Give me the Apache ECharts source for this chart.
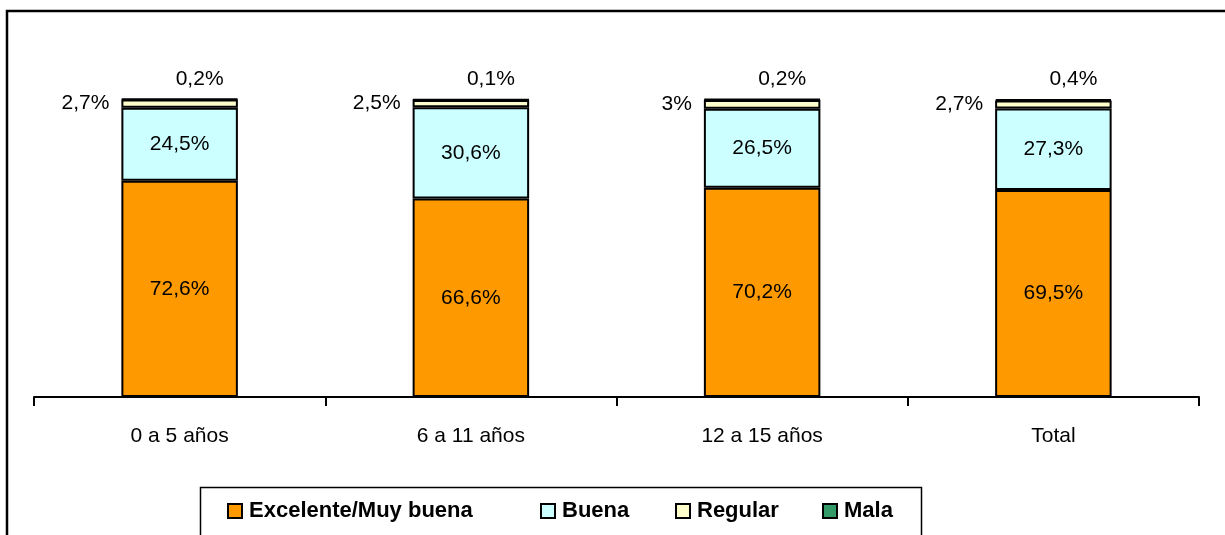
<!DOCTYPE html>
<html>
<head>
<meta charset="utf-8">
<script src="https://cdn.jsdelivr.net/npm/echarts@6/dist/echarts.min.js"></script>
<style>
  html, body { margin: 0; padding: 0; background: #fff; }
  #chart { width: 1225px; height: 535px; }
</style>
</head>
<body>
<div id="chart"></div>
<script>
const categories = ['0 a 5 años', '6 a 11 años', '12 a 15 años', 'Total'];
const excelente = [72.6, 66.6, 70.2, 69.5];
const buena = [24.5, 30.6, 26.5, 27.3];
const regular = [2.7, 2.5, 3, 2.7];
const mala = [0.2, 0.1, 0.2, 0.4];

const font = "'Liberation Sans', Arial, sans-serif";
const fmt = (p) => String(p.value).replace('.', ',') + '%';

const chart = echarts.init(document.getElementById('chart'));

const seriesDefs = [
  { name: 'Excelente/Muy buena', data: excelente, color: '#FF9900', label: { show: true, position: 'inside' } },
  { name: 'Buena', data: buena, color: '#CCFFFF', label: { show: true, position: 'inside' } },
  { name: 'Regular', data: regular, color: '#FFFFCC', label: { show: true, position: 'left', distance: 12 } },
  { name: 'Mala', data: mala, color: '#339966', label: { show: true, position: 'top', offset: [20, -4] } }
];

// one legend per entry so the uneven spacing of the original can be kept
const legendLeft = [227, 540, 675, 822];

const option = {
  animation: false,
  graphic: [{
    type: 'rect',
    shape: { x: 7, y: 11, width: 1400, height: 700 },
    style: { fill: 'none', stroke: '#000', lineWidth: 2.5 },
    silent: true
  }, {
    type: 'rect',
    shape: { x: 200.5, y: 487.5, width: 721, height: 80 },
    style: { fill: 'none', stroke: '#000', lineWidth: 1.5 },
    silent: true
  }],
  grid: { left: 34, right: 26, top: 99, bottom: 138 },
  legend: seriesDefs.map((s, i) => ({
    left: legendLeft[i],
    top: 500,
    padding: 0,
    itemWidth: 14,
    itemHeight: 14,
    icon: 'rect',
    textStyle: { fontFamily: font, fontWeight: 'bold', fontSize: 22, color: '#000', padding: [0, 0, 0, 2] },
    data: [s.name]
  })),
  xAxis: {
    type: 'category',
    data: categories,
    axisLine: { lineStyle: { color: '#000', width: 2 } },
    axisTick: { show: true, length: 9, lineStyle: { color: '#000', width: 2 } },
    axisLabel: { fontFamily: font, fontSize: 21, color: '#000', margin: 29 }
  },
  yAxis: {
    type: 'value',
    min: 0,
    max: 100,
    show: false,
    splitLine: { show: false }
  },
  series: seriesDefs.map(s => ({
    name: s.name,
    type: 'bar',
    stack: 'total',
    barWidth: '40%',
    data: s.data,
    itemStyle: { color: s.color, borderColor: '#000', borderWidth: 2 },
    label: Object.assign({ formatter: fmt, fontFamily: font, fontSize: 21, color: '#000' }, s.label)
  }))
};

chart.setOption(option);
</script>
</body>
</html>
